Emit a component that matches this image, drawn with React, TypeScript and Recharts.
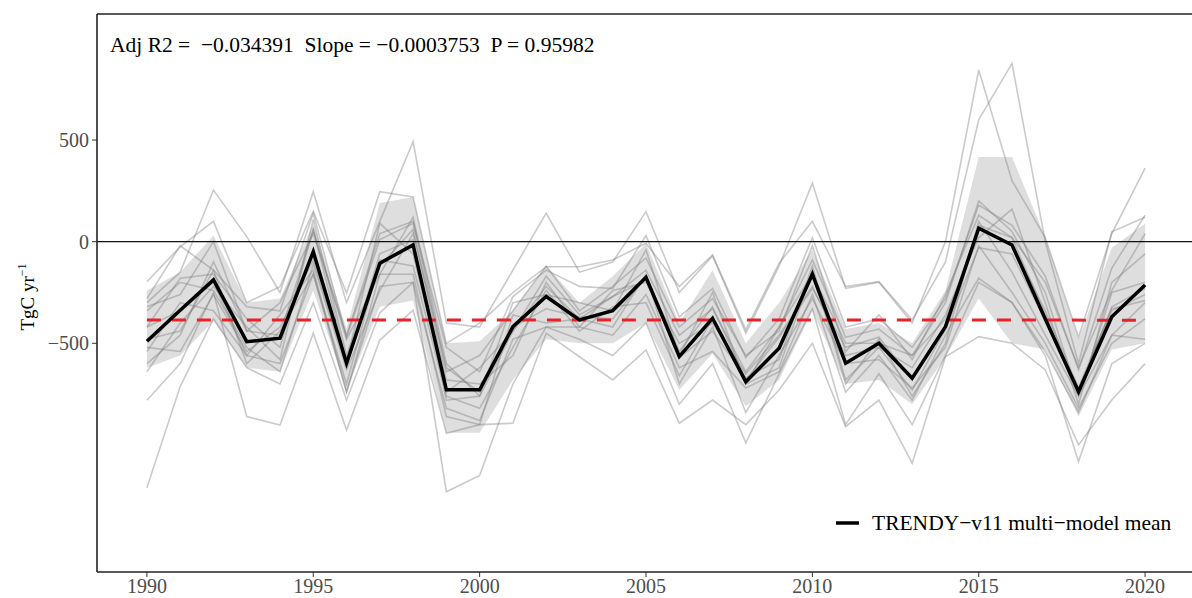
import React from "react";
import {
  ComposedChart,
  Line,
  Area,
  XAxis,
  YAxis,
  ReferenceLine,
} from "recharts";

// ---------- data ----------
const years = [
  1990, 1991, 1992, 1993, 1994, 1995, 1996, 1997, 1998, 1999, 2000, 2001, 2002,
  2003, 2004, 2005, 2006, 2007, 2008, 2009, 2010, 2011, 2012, 2013, 2014, 2015,
  2016, 2017, 2018, 2019, 2020,
];

const meanFlux = [
  -490, -337, -188, -492, -475, -49, -598, -106, -16, -729, -729, -418, -270,
  -385, -339, -175, -565, -377, -689, -524, -160, -598, -500, -672, -418, 66,
  -16, -380, -738, -369, -213,
];

const bandUpper = [
  -240, -150, 30, -300, -280, 90, -430, 190, 220, -500, -490, -340, -120, -300,
  -170, -10, -400, -140, -500, -300, -40, -430, -400, -500, -240, 416, 416, 20,
  -480, -30, 90,
];

const bandLower = [
  -620, -560, -390, -620, -640, -240, -730, -320, -290, -940, -940, -680, -480,
  -500, -500, -400, -730, -550, -810, -680, -340, -700, -680, -800, -570, -280,
  -500, -530, -860, -530, -500,
];

const model01 = [-300, -150, 254, 25, -250, 246, -300, 100, 492, -400, -420, -140, 141, -150, -100, 148, -250, -70, -450, -120, 288, -230, -200, -400, 0, 845, 300, 20, -470, 40, 362];
const model02 = [-1211, -713, -380, -620, -700, -300, -780, -350, -200, -1230, -1150, -700, -420, -480, -560, -400, -800, -600, -990, -650, -330, -900, -650, -900, -560, -200, -300, -560, -1082, -600, -500];
const model03 = [-197, -25, 100, -300, -221, 150, -253, 246, 220, -500, -401, -250, -123, -123, -90, -8, -221, -65, -434, -106, 100, -221, -197, -385, -100, 600, 877, 0, -600, 49, 120];
const model04 = [-780, -600, -250, -860, -902, -450, -927, -484, -337, -943, -900, -893, -450, -566, -680, -533, -893, -779, -900, -730, -500, -910, -779, -1090, -566, -467, -500, -631, -1000, -779, -600];
const model05 = [-420, -180, -160, -380, -520, 60, -480, -160, 120, -600, -760, -300, -260, -300, -340, -40, -560, -250, -700, -420, -160, -500, -500, -560, -300, 200, 50, -250, -760, -250, -200];
const model06 = [-480, -440, -140, -600, -440, -160, -700, -90, -120, -760, -820, -520, -240, -440, -320, -300, -660, -380, -700, -620, -140, -700, -480, -760, -500, 100, -150, -460, -760, -460, -300];
const model07 = [-640, -400, -220, -420, -580, 110, -560, -120, 60, -680, -700, -560, -200, -420, -240, -200, -500, -400, -650, -460, -220, -560, -520, -620, -360, 20, 160, -300, -800, -200, -60];
const model08 = [-420, -340, -200, -560, -360, -140, -740, -160, -160, -860, -900, -360, -400, -380, -420, -160, -700, -420, -840, -560, -280, -600, -580, -720, -520, -20, -250, -500, -820, -500, -380];
const model09 = [-320, -260, 0, -440, -300, 40, -460, 40, 100, -640, -560, -340, -120, -340, -220, -80, -420, -280, -560, -440, -20, -540, -360, -580, -260, 130, 20, -200, -620, -240, 40];
const model10 = [-540, -300, -340, -560, -600, -160, -740, -220, -200, -820, -880, -480, -420, -420, -460, -260, -620, -540, -720, -640, -260, -740, -560, -780, -460, -180, -300, -540, -840, -460, -480];
const model11 = [-600, -460, -100, -440, -460, 60, -590, 90, -60, -740, -620, -440, -170, -360, -270, -140, -460, -330, -640, -420, -90, -470, -430, -560, -380, 60, -10, -340, -720, -340, -260];
const model12 = [-340, -200, -240, -520, -640, -110, -630, -240, 40, -620, -740, -420, -330, -370, -380, -170, -540, -320, -680, -470, -230, -520, -470, -680, -420, 80, 20, -360, -740, -320, -230];
const model13 = [-520, -540, -260, -540, -420, -90, -610, -60, 10, -780, -760, -440, -220, -380, -270, -190, -570, -440, -670, -580, -120, -680, -520, -730, -430, -30, -60, -390, -720, -330, -290];
const model14 = [-280, -20, -140, -320, -340, 140, -470, 10, 90, -520, -640, -270, -140, -220, -230, 30, -370, -230, -570, -380, 20, -420, -380, -520, -280, 180, 80, -170, -630, -130, 130];

const models = [
  model01, model02, model03, model04, model05, model06, model07,
  model08, model09, model10, model11, model12, model13, model14,
];

const trendYears = [1990, 2020];
const trendValues = [-385, -386];

const xTicks = [1990, 1995, 2000, 2005, 2010, 2015, 2020];
const yTicks = [-500, 0, 500];

const statsText = "Adj R2 =  \u22120.034391  Slope = \u22120.0003753  P = 0.95982";
const legendLabel = "TRENDY\u2212v11 multi\u2212model mean";

// ---------- tables ----------
const chartData = years.map((year, i) => {
  const row: Record<string, any> = {
    year,
    mean: meanFlux[i],
    band: [bandLower[i], bandUpper[i]],
  };
  models.forEach((m, k) => {
    row["m" + k] = m[i];
  });
  return row;
});

const trendData = trendYears.map((year, i) => ({ year, trend: trendValues[i] }));

const SERIF = "'Liberation Serif', 'Times New Roman', Times, serif";

const fmtY = (v: number) => (v < 0 ? "\u2212" + Math.abs(v) : String(v));

export default function App() {
  return (
    <div
      style={{
        position: "absolute",
        left: 0,
        top: 0,
        width: 1192,
        height: 598,
        overflow: "hidden",
        background: "#fff",
      }}
    >
      <ComposedChart
        width={1200}
        height={598}
        data={chartData}
        margin={{ top: 14, right: 5, bottom: 0, left: 0 }}
      >
        <XAxis
          dataKey="year"
          type="number"
          domain={[1988.5, 2021.5]}
          ticks={xTicks}
          allowDataOverflow
          height={26}
          tickSize={5}
          tickMargin={2}
          tick={{ fill: "#4d4d4d", fontSize: 20, fontFamily: SERIF }}
          tickLine={{ stroke: "#333", strokeWidth: 1 }}
          axisLine={{ stroke: "#222", strokeWidth: 1.6 }}
        />
        <YAxis
          type="number"
          domain={[-1625, 1120]}
          ticks={yTicks}
          allowDataOverflow
          width={97}
          tickSize={5}
          tickMargin={3}
          tickFormatter={fmtY}
          tick={{ fill: "#4d4d4d", fontSize: 20, fontFamily: SERIF }}
          tickLine={{ stroke: "#333", strokeWidth: 1 }}
          axisLine={{ stroke: "#222", strokeWidth: 1.6 }}
        />
        <ReferenceLine y={1120} stroke="#222" strokeWidth={1.6} />
        <Area
          dataKey="band"
          type="linear"
          stroke="none"
          fill="#bdbdbd"
          fillOpacity={0.5}
          isAnimationActive={false}
        />
        {models.map((_, k) => (
          <Line
            key={k}
            dataKey={"m" + k}
            type="linear"
            stroke="#7a7a7a"
            strokeOpacity={0.4}
            strokeWidth={1.6}
            dot={false}
            activeDot={false}
            isAnimationActive={false}
          />
        ))}
        <ReferenceLine y={0} stroke="#111" strokeWidth={1.2} />
        <Line
          data={trendData}
          dataKey="trend"
          type="linear"
          stroke="#e8222a"
          strokeWidth={3}
          strokeDasharray="14 11"
          dot={false}
          activeDot={false}
          isAnimationActive={false}
        />
        <Line
          dataKey="mean"
          type="linear"
          stroke="#000"
          strokeWidth={3.5}
          strokeLinejoin="miter"
          dot={false}
          activeDot={false}
          isAnimationActive={false}
        />
      </ComposedChart>
      <svg
        width={1192}
        height={598}
        style={{ position: "absolute", left: 0, top: 0, pointerEvents: "none" }}
      >
        <text
          x={110}
          y={52}
          fontFamily={SERIF}
          fontSize={21.5}
          fill="#000"
          style={{ whiteSpace: "pre" }}
        >
          {statsText}
        </text>
        <text
          transform="translate(34,297) rotate(-90)"
          textAnchor="middle"
          fontFamily={SERIF}
          fontSize={19}
          fill="#000"
        >
          TgC yr
          <tspan dy={-8} fontSize={12}>
            {"\u22121"}
          </tspan>
        </text>
        <line x1={836} y1={523} x2={859} y2={523} stroke="#000" strokeWidth={3.5} />
        <text x={872} y={530} fontFamily={SERIF} fontSize={21.5} fill="#000">
          {legendLabel}
        </text>
      </svg>
    </div>
  );
}
